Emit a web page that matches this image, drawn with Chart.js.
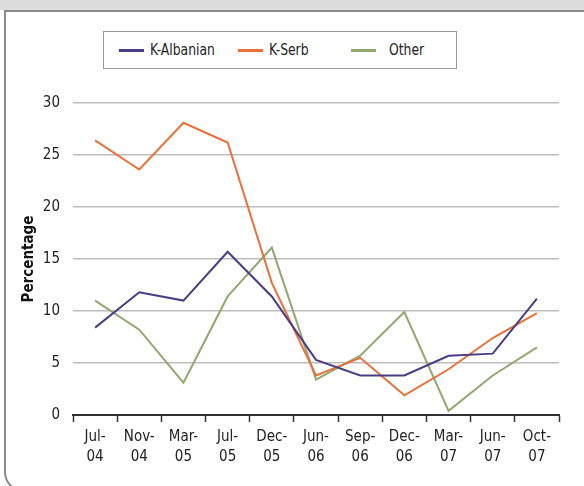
<!DOCTYPE html>
<html>
<head>
<meta charset="utf-8">
<script src="https://cdn.jsdelivr.net/npm/chart.js@4.4.1/dist/chart.umd.min.js"></script>
<style>
  html, body { margin:0; padding:0; background:#fff; }
  body { width:584px; height:486px; position:relative; overflow:hidden; font-family:'Liberation Sans Narrow','DejaVu Sans Condensed',sans-serif; }
  #band { position:absolute; left:0; top:0; width:584px; height:10px; background:#dcdcdc; }
  #frame { position:absolute; left:4px; top:10px; width:600px; height:482px; border-left:2px solid #8a8a8a; border-top:2px solid #8a8a8a; border-bottom:2px solid #8a8a8a; border-bottom-left-radius:20px; box-sizing:border-box; }
  #wrap { position:absolute; left:0; top:0; width:584px; height:486px; }
  #legend { position:absolute; left:103px; top:31px; width:354px; height:38px; border:1px solid #999; box-sizing:border-box; background:#fff; }
  .item { position:absolute; top:0; height:36px; line-height:36px; font-size:16px; color:#222; white-space:nowrap; transform:scaleX(0.86); transform-origin:left center; }
  .swatch { position:absolute; top:17px; width:25px; height:3px; }
</style>
</head>
<body>
<div id="band"></div>
<div id="frame"></div>
<div id="wrap"><canvas id="c" width="584" height="486"></canvas></div>
<div id="legend"></div>
<script>
const categories = ["Jul-04","Nov-04","Mar-05","Jul-05","Dec-05","Jun-06","Sep-06","Dec-06","Mar-07","Jun-07","Oct-07"];
const kAlbanian = [8.4, 11.8, 11.0, 15.7, 11.4, 5.3, 3.8, 3.8, 5.7, 5.9, 11.2];
const kSerb     = [26.4, 23.6, 28.1, 26.2, 12.7, 3.8, 5.5, 1.9, 4.4, 7.4, 9.8];
const other     = [11.0, 8.2, 3.1, 11.4, 16.1, 3.4, 5.7, 9.9, 0.4, 3.8, 6.5];
const yTicks    = [0, 5, 10, 15, 20, 25, 30];
const seriesNames = ["K-Albanian", "K-Serb", "Other"];
const seriesColors = ["#4b3c86", "#e8703a", "#91a86f"];

const FONT = "'Liberation Sans Narrow','DejaVu Sans Condensed',sans-serif";

const datasets = [kAlbanian, kSerb, other].map((d, i) => ({
  label: seriesNames[i], data: d, borderColor: seriesColors[i], backgroundColor: seriesColors[i],
  borderWidth: 2, pointRadius: 0, tension: 0, fill: false
}));

// legend (HTML)
const legendPos = [[15, 46], [134, 165], [247, 285]];
const lg = document.getElementById('legend');
seriesNames.forEach((n, i) => {
  const sw = document.createElement('div');
  sw.className = 'swatch'; sw.style.left = legendPos[i][0] + 'px'; sw.style.background = seriesColors[i];
  lg.appendChild(sw);
  const t = document.createElement('div');
  t.className = 'item'; t.style.left = legendPos[i][1] + 'px'; t.textContent = n;
  lg.appendChild(t);
});

new Chart(document.getElementById('c'), {
  type: 'line',
  data: { labels: categories, datasets },
  options: {
    responsive: false, animation: false,
    layout: { padding: { left: 20, right: 25, top: 103, bottom: 0 } },
    plugins: { legend: { display: false }, tooltip: { enabled: false } },
    scales: {
      x: {
        type: 'category', offset: true,
        grid: { offset: true, drawOnChartArea: false, drawTicks: true, tickLength: 7, tickColor: '#333', tickWidth: 1.5 },
        border: { display: true, color: '#333', width: 2 },
        ticks: {
          color: '#222', font: { family: FONT, size: 15, lineHeight: 1.35 }, padding: 5, maxRotation: 0, autoSkip: false,
          callback: function(v) { const s = this.getLabelForValue(v); const p = s.split('-'); return [p[0] + '-', p[1]]; }
        },
        afterFit: s => { s.height = 71; }
      },
      y: {
        min: 0, max: 30,
        afterBuildTicks: s => { s.ticks = yTicks.map(v => ({ value: v })); },
        grid: { color: '#bdbdbd', lineWidth: 1.5, drawTicks: false },
        border: { display: false },
        ticks: { color: '#222', font: { family: FONT, size: 15 }, padding: 13 },
        title: { display: true, text: 'Percentage', color: '#111', font: { family: FONT, size: 15, weight: 'bold' }, padding: { top: 0, bottom: 0 } },
        afterFit: s => { s.width = 53; }
      }
    }
  }
});
</script>
</body>
</html>
